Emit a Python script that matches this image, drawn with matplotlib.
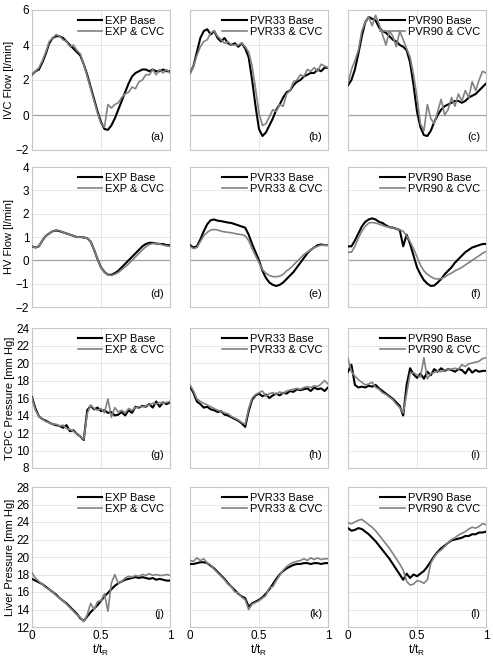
import numpy as np
import matplotlib.pyplot as plt

plt.rcParams['font.family'] = ['Liberation Sans', 'DejaVu Sans']

# общая ось времени t/t_R
t = np.linspace(0, 1, 41)

# IVC flow [l/min]
ivc_exp_base = [2.3, 2.5, 2.6, 3.0, 3.5, 4.1, 4.4, 4.5, 4.5, 4.4, 4.2, 4.0, 3.8, 3.6, 3.4, 2.9, 2.3, 1.6, 0.9, 0.2,
                -0.4, -0.8, -0.85, -0.6, -0.2, 0.3, 0.8, 1.3, 1.8, 2.2, 2.4, 2.5, 2.6, 2.6, 2.5, 2.6, 2.5, 2.5, 2.6, 2.5, 2.5]
ivc_exp_cvc = [2.3, 2.5, 2.7, 3.1, 3.6, 4.2, 4.4, 4.6, 4.5, 4.3, 4.2, 3.9, 4.0, 3.7, 3.5, 2.9, 2.2, 1.5, 0.8, 0.1,
               -0.5, -0.7, 0.6, 0.4, 0.6, 0.7, 1.0, 1.2, 1.3, 1.6, 1.5, 1.9, 2.0, 2.3, 2.3, 2.6, 2.3, 2.6, 2.4, 2.6, 2.4]
ivc_p33_base = [2.4, 2.8, 3.6, 4.4, 4.8, 4.9, 4.6, 4.8, 4.4, 4.2, 4.4, 4.1, 4.0, 4.1, 3.9, 4.1, 3.8, 3.3, 2.0, 0.5,
                -0.8, -1.2, -1.0, -0.6, -0.2, 0.3, 0.6, 1.0, 1.3, 1.4, 1.7, 1.9, 2.0, 2.2, 2.3, 2.4, 2.4, 2.6, 2.5, 2.7, 2.7]
ivc_p33_cvc = [2.4, 2.8, 3.4, 3.9, 4.2, 4.3, 4.7, 4.8, 4.5, 4.3, 4.1, 4.2, 4.0, 4.0, 4.0, 4.1, 3.9, 3.6, 2.8, 1.5,
               0.1, -0.6, -0.5, -0.1, 0.3, 0.2, 0.6, 0.5, 1.2, 1.4, 1.9, 2.0, 2.3, 2.2, 2.6, 2.5, 2.7, 2.5, 2.9, 2.8, 2.7]
ivc_p90_base = [1.7, 2.0, 2.6, 3.5, 4.5, 5.3, 5.6, 5.5, 5.4, 5.0, 4.8, 4.7, 4.5, 4.3, 4.2, 4.0, 3.9, 3.7, 3.0, 1.7,
                0.2, -0.7, -1.15, -1.2, -0.9, -0.4, 0.0, 0.3, 0.5, 0.6, 0.7, 0.8, 0.8, 0.7, 0.8, 1.0, 1.1, 1.2, 1.4, 1.6, 1.8]
ivc_p90_cvc = [1.8, 2.6, 3.1, 3.7, 4.8, 5.3, 5.6, 5.1, 5.7, 5.2, 4.6, 4.0, 4.8, 4.5, 3.9, 4.8, 4.3, 3.8, 3.3, 2.3,
               1.0, -0.5, -0.9, 0.6, -0.2, -0.5, 0.2, 0.9, 0.0, 0.3, 1.0, 0.5, 1.2, 0.8, 1.4, 1.0, 1.9, 1.4, 2.0, 2.5, 2.4]

# HV flow [l/min]
hv_exp_base = [0.6, 0.55, 0.6, 0.85, 1.05, 1.15, 1.25, 1.28, 1.25, 1.2, 1.15, 1.1, 1.05, 1.0, 1.0, 0.98, 0.95, 0.8, 0.45, 0.05,
               -0.3, -0.5, -0.62, -0.62, -0.55, -0.45, -0.3, -0.15, 0.0, 0.15, 0.3, 0.45, 0.6, 0.7, 0.75, 0.75, 0.72, 0.7, 0.7, 0.65, 0.65]
hv_exp_cvc = [0.6, 0.55, 0.6, 0.85, 1.05, 1.15, 1.25, 1.3, 1.27, 1.2, 1.15, 1.1, 1.05, 1.0, 1.0, 0.98, 0.95, 0.8, 0.45, 0.05,
              -0.3, -0.52, -0.63, -0.65, -0.6, -0.52, -0.4, -0.28, -0.15, 0.0, 0.15, 0.3, 0.45, 0.58, 0.68, 0.72, 0.72, 0.7, 0.65, 0.62, 0.6]
hv_p33_base = [0.65, 0.55, 0.6, 0.9, 1.25, 1.55, 1.72, 1.75, 1.7, 1.68, 1.65, 1.62, 1.6, 1.55, 1.5, 1.45, 1.4, 1.1, 0.7, 0.35,
               0.0, -0.45, -0.75, -0.95, -1.05, -1.1, -1.05, -0.95, -0.8, -0.65, -0.5, -0.3, -0.1, 0.1, 0.3, 0.45, 0.55, 0.65, 0.68, 0.65, 0.65]
hv_p33_cvc = [0.6, 0.5, 0.55, 0.8, 1.05, 1.2, 1.3, 1.32, 1.3, 1.25, 1.22, 1.2, 1.18, 1.15, 1.12, 1.1, 1.05, 0.85, 0.5, 0.2,
              -0.1, -0.4, -0.55, -0.65, -0.7, -0.7, -0.68, -0.6, -0.45, -0.35, -0.2, -0.05, 0.1, 0.25, 0.35, 0.45, 0.55, 0.6, 0.65, 0.65, 0.65]
hv_p90_base = [0.6, 0.6, 0.85, 1.15, 1.45, 1.65, 1.75, 1.8, 1.75, 1.65, 1.6, 1.5, 1.42, 1.4, 1.35, 1.3, 0.6, 1.1, 0.7, 0.2,
               -0.3, -0.6, -0.85, -1.0, -1.1, -1.08, -0.95, -0.8, -0.6, -0.45, -0.3, -0.1, 0.05, 0.2, 0.35, 0.45, 0.55, 0.6, 0.65, 0.7, 0.7]
hv_p90_cvc = [0.35, 0.35, 0.6, 0.95, 1.25, 1.45, 1.6, 1.62, 1.6, 1.55, 1.5, 1.45, 1.42, 1.38, 1.35, 1.3, 1.25, 1.05, 0.8, 0.5,
              0.15, -0.2, -0.45, -0.6, -0.7, -0.78, -0.8, -0.78, -0.72, -0.62, -0.55, -0.45, -0.38, -0.3, -0.2, -0.1, 0.0, 0.1, 0.2, 0.3, 0.38]

# TCPC pressure [mm Hg]
tcpc_exp_base = [16.1, 14.8, 13.9, 13.6, 13.4, 13.2, 13.0, 12.9, 12.8, 12.6, 12.9, 12.2, 12.3, 11.9, 11.6, 11.2, 14.6, 15.1, 14.7, 14.9,
                 14.5, 14.6, 14.3, 14.4, 14.0, 14.1, 14.4, 14.0, 14.6, 14.3, 15.0, 14.9, 15.1, 15.0, 15.3, 14.9, 15.6, 15.0, 15.5, 15.3, 15.5]
tcpc_exp_cvc = [16.0, 14.6, 13.9, 13.6, 13.3, 13.2, 13.0, 13.0, 12.8, 12.9, 12.5, 12.4, 12.2, 11.9, 11.6, 11.3, 14.2, 15.2, 14.8, 14.6,
                14.8, 14.3, 15.9, 13.8, 14.9, 14.4, 14.6, 14.3, 14.8, 14.6, 14.9, 15.0, 15.0, 15.1, 15.2, 15.4, 15.3, 15.5, 15.4, 15.5, 15.6]
tcpc_p33_base = [17.3, 16.6, 15.6, 15.3, 14.9, 15.0, 14.7, 14.6, 14.4, 14.5, 14.1, 14.0, 13.8, 13.6, 13.4, 13.1, 12.7, 14.5, 15.8, 16.3,
                 16.5, 16.2, 16.4, 16.0, 16.3, 16.5, 16.3, 16.6, 16.5, 16.8, 16.7, 17.0, 16.9, 17.0, 17.1, 16.8, 17.2, 17.0, 17.1, 16.8, 17.2]
tcpc_p33_cvc = [17.5, 16.8, 15.9, 15.6, 15.4, 15.2, 15.0, 14.8, 14.6, 14.5, 14.3, 14.2, 13.9, 13.7, 13.5, 13.2, 13.0, 14.8, 16.0, 16.4,
                16.6, 16.8, 16.2, 16.5, 16.6, 16.4, 16.7, 16.5, 16.8, 16.9, 17.0, 17.1, 17.0, 17.2, 17.3, 17.2, 17.4, 17.3, 17.6, 18.0, 17.6]
tcpc_p90_base = [19.0, 19.8, 17.5, 17.2, 17.3, 17.2, 17.4, 17.3, 17.5, 17.1, 16.8, 16.5, 16.2, 15.9, 15.5, 15.1, 14.0, 17.5, 19.4, 18.7,
                 18.3, 18.8, 18.2, 19.0, 18.6, 19.3, 19.0, 19.4, 19.1, 19.3, 19.2, 19.0, 19.3, 19.2, 18.8, 19.4, 18.9, 19.2, 19.0, 19.1, 19.1]
tcpc_p90_cvc = [20.5, 19.0, 18.5, 18.1, 17.8, 17.5, 17.6, 17.8, 17.2, 17.0, 16.6, 16.4, 16.1, 15.8, 15.3, 14.9, 14.3, 16.5, 18.8, 18.9,
                18.6, 18.4, 20.6, 18.2, 18.8, 18.9, 19.1, 19.0, 19.2, 19.3, 19.3, 19.4, 19.3, 19.8, 19.6, 19.9, 20.0, 20.1, 20.2, 20.5, 20.6]

# Liver pressure [mm Hg]
liv_exp_base = [17.5, 17.3, 17.1, 16.9, 16.6, 16.3, 16.0, 15.7, 15.3, 15.0, 14.7, 14.3, 13.9, 13.5, 13.0, 12.7, 13.2, 13.7, 14.1, 14.5,
                15.0, 15.5, 15.9, 16.3, 16.7, 17.0, 17.2, 17.4, 17.5, 17.6, 17.7, 17.6, 17.7, 17.6, 17.5, 17.6, 17.4, 17.5, 17.4, 17.3, 17.3]
liv_exp_cvc = [18.2, 17.6, 17.2, 16.9, 16.5, 16.3, 16.0, 15.6, 15.3, 15.0, 14.6, 14.2, 13.8, 13.4, 13.1, 12.6, 13.4, 14.7, 14.0, 14.9,
               15.0, 15.8, 13.8, 17.0, 18.0, 17.0, 17.2, 17.6, 17.8, 17.7, 17.9, 17.8, 18.0, 17.9, 18.1, 17.9, 18.0, 17.9, 17.9, 18.0, 17.9]
liv_p33_base = [19.2, 19.2, 19.3, 19.4, 19.4, 19.3, 19.0, 18.7, 18.3, 17.9, 17.5, 17.0, 16.6, 16.2, 15.8, 15.5, 15.3, 14.3, 14.7, 14.9,
                15.1, 15.4, 15.8, 16.3, 16.9, 17.5, 18.0, 18.4, 18.7, 18.9, 19.1, 19.2, 19.2, 19.3, 19.3, 19.2, 19.3, 19.3, 19.2, 19.3, 19.3]
liv_p33_cvc = [19.6, 19.5, 19.9, 19.6, 19.8, 19.3, 19.1, 18.6, 18.2, 17.8, 17.4, 16.9, 16.6, 16.0, 15.9, 15.4, 15.1, 14.0, 14.6, 14.8,
               15.0, 15.3, 15.6, 16.5, 16.6, 17.3, 17.9, 18.5, 18.9, 19.2, 19.4, 19.5, 19.6, 19.8, 19.6, 19.9, 19.7, 19.9, 19.7, 19.8, 19.8]
liv_p90_base = [23.3, 23.0, 23.1, 23.3, 23.2, 22.9, 22.6, 22.2, 21.8, 21.3, 20.8, 20.3, 19.8, 19.2, 18.6, 18.0, 17.4, 18.1, 17.6, 18.0,
                17.8, 18.1, 18.4, 18.9, 19.5, 20.1, 20.6, 21.0, 21.3, 21.6, 21.9, 22.0, 22.1, 22.2, 22.4, 22.4, 22.6, 22.6, 22.8, 22.8, 22.9]
liv_p90_cvc = [23.9, 23.8, 24.0, 24.2, 24.3, 24.0, 23.7, 23.4, 23.0, 22.5, 22.0, 21.5, 21.0, 20.4, 19.8, 19.2, 18.5, 17.2, 16.8, 16.9,
               17.3, 17.2, 17.0, 17.4, 19.3, 20.0, 20.5, 20.8, 21.2, 21.6, 22.0, 22.2, 22.5, 22.7, 22.9, 23.2, 23.4, 23.3, 23.5, 23.8, 23.7]

cases = ["EXP", "PVR33", "PVR90"]
ylabels = ["IVC Flow [l/min]", "HV Flow [l/min]", "TCPC Pressure [mm Hg]", "Liver Pressure [mm Hg]"]
yranges = [(-2, 6, 2), (-2, 4, 1), (8, 24, 2), (12, 28, 2)]
data = [
    [(ivc_exp_base, ivc_exp_cvc), (ivc_p33_base, ivc_p33_cvc), (ivc_p90_base, ivc_p90_cvc)],
    [(hv_exp_base, hv_exp_cvc), (hv_p33_base, hv_p33_cvc), (hv_p90_base, hv_p90_cvc)],
    [(tcpc_exp_base, tcpc_exp_cvc), (tcpc_p33_base, tcpc_p33_cvc), (tcpc_p90_base, tcpc_p90_cvc)],
    [(liv_exp_base, liv_exp_cvc), (liv_p33_base, liv_p33_cvc), (liv_p90_base, liv_p90_cvc)],
]
letters = "abcdefghijkl"

fig = plt.figure(figsize=(4.93, 6.61), dpi=100)
lefts = [32, 190, 348]
tops = [10, 167, 328, 487]
W, H = 493, 661

for r in range(4):
    for c in range(3):
        ax = fig.add_axes([lefts[c] / W, 1 - (tops[r] + 140) / H, 138 / W, 140 / H])
        base, cvc = data[r][c]
        ax.plot(t, base, color="black", lw=1.5, label=f"{cases[c]} Base", zorder=3)
        ax.plot(t, cvc, color="#828282", lw=1.2, label=f"{cases[c]} & CVC", zorder=4)
        lo, hi, step = yranges[r]
        ax.set_xlim(0, 1)
        ax.set_ylim(lo, hi)
        ax.set_xticks([0, 0.5, 1])
        ax.set_yticks(np.arange(lo, hi + 0.1, step))
        ax.grid(True, color="#e6e6e6", lw=0.7)
        ax.set_axisbelow(True)
        if r < 2:
            ax.axhline(0, color="#a0a0a0", lw=0.9, zorder=2)
        for s in ax.spines.values():
            s.set_color("#c8c8c8")
        ax.tick_params(length=0, labelsize=8.5, pad=2)
        if c == 0:
            ax.set_ylabel(ylabels[r], fontsize=8, labelpad=1)
        else:
            ax.set_yticklabels([])
        if r == 3:
            ax.set_xticklabels(["0", "0.5", "1"])
            ax.set_xlabel("t/t$_\\mathregular{R}$", fontsize=8.5, labelpad=1)
        else:
            ax.set_xticklabels([])
        ax.legend(loc="upper right", frameon=False, fontsize=8, handlelength=2.2,
                  handletextpad=0.3, labelspacing=0.15, borderpad=0.2, borderaxespad=0.3)
        ax.text(0.96, 0.06, f"({letters[r * 3 + c]})", transform=ax.transAxes,
                ha="right", va="bottom", fontsize=8)

plt.savefig("out.png", dpi=100)
